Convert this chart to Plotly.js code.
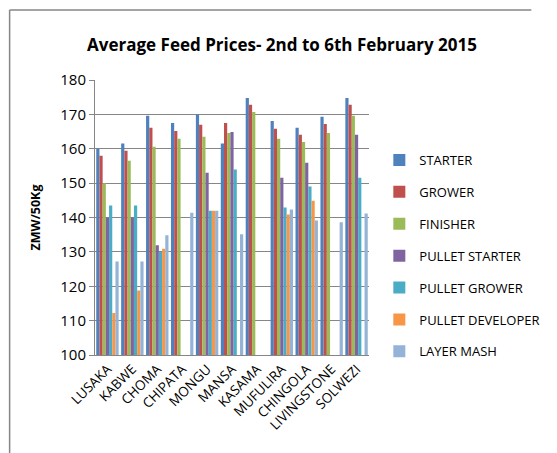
<!DOCTYPE html>
<html>
<head>
<meta charset="utf-8">
<script src="https://cdn.plot.ly/plotly-3.0.1.min.js"></script>
<style>html,body{margin:0;padding:0;background:#fff;} #chart{width:557px;height:453px;}</style>
</head>
<body>
<div id="chart"></div>
<script>
const towns = ["LUSAKA","KABWE","CHOMA","CHIPATA","MONGU","MANSA","KASAMA","MUFULIRA","CHINGOLA","LIVINGSTONE","SOLWEZI"];
const starter        = [160, 161.5, 169.6, 167.5, 170, 161.5, 174.8, 168.1, 166.1, 169.3, 174.8];
const grower         = [158, 159.4, 166.1, 165.2, 167, 167.5, 172.8, 165.8, 164.1, 167.2, 172.8];
const finisher       = [150, 156.5, 160.6, 162.9, 163.5, 164.6, 170.7, 162.9, 162, 164.6, 169.6];
const pulletStarter  = [140, 140, 131.9, 0, 153, 164.9, 0, 151.6, 155.9, 0, 164.1];
const pulletGrower   = [143.5, 143.5, 130, 0, 142, 154, 0, 142.9, 149, 0, 151.6];
const pulletDeveloper= [112.2, 118.8, 130.9, 0, 142, 0, 0, 140.9, 144.9, 0, 0];
const layerMash      = [127.2, 127.2, 134.8, 141.4, 142, 135.1, 0, 142.3, 139.1, 138.6, 141.2];
const seriesNames = ["STARTER","GROWER","FINISHER","PULLET STARTER","PULLET GROWER","PULLET DEVELOPER","LAYER MASH"];
const seriesColors = ["#4F81BD","#C0504D","#9BBB59","#8064A2","#4BACC6","#F79646","#95B3D7"];
const seriesValues = [starter, grower, finisher, pulletStarter, pulletGrower, pulletDeveloper, layerMash];
const yTicks = [100,110,120,130,140,150,160,170,180];

const traces = seriesValues.map((vals, i) => ({
  type: "bar",
  name: seriesNames[i],
  x: towns,
  y: vals,
  legendgroup: "g" + i,
  marker: {color: seriesColors[i], line: {width: 0}},
  hoverinfo: "x+y+name"
}));

const gray = "#868686";
const L = 95, R = 387, T = 80, B = 355;
const pw = R - L, ph = B - T;
const px = v => (v - L) / pw;
const py = v => (B - v) / ph;

const layout = {
  width: 557, height: 453,
  margin: {l: L, r: 557 - R, t: T, b: 453 - B, pad: 0},
  paper_bgcolor: "#fff", plot_bgcolor: "#fff",
  font: {family: "Open Sans, Liberation Sans, sans-serif", color: "#000"},
  title: {
    text: "<b>Average Feed Prices- 2nd to 6th February 2015</b>",
    font: {family: "Open Sans, sans-serif", size: 17, color: "#000"},
    x: 282 / 557, xanchor: "center", xref: "container",
    y: 1 - 45 / 453, yanchor: "middle", yref: "container"
  },
  barmode: "group",
  bargap: 0.1,
  bargroupgap: 0,
  showlegend: true,
  legend: {
    x: px(398), xanchor: "left", y: py(145), yanchor: "top",
    font: {size: 13, color: "#000"},
    tracegroupgap: 12,
    itemwidth: 30,
    bgcolor: "rgba(0,0,0,0)"
  },
  xaxis: {
    type: "category",
    tickangle: -45,
    tickfont: {size: 13.5, color: "#000"},
    showline: true, linecolor: gray, linewidth: 1,
    ticks: "", showgrid: false,
    fixedrange: true
  },
  yaxis: {
    range: [100, 180],
    tickvals: yTicks,
    ticktext: yTicks.map(String),
    tickfont: {size: 15, color: "#000"},
    showline: true, linecolor: gray, linewidth: 1,
    ticks: "outside", ticklen: 5, tickcolor: gray,
    showgrid: true, gridcolor: gray, gridwidth: 1,
    zeroline: false,
    title: {text: "<b>ZMW/50Kg</b>", font: {size: 12.5, color: "#000"}, standoff: 16},
    fixedrange: true
  },
  shapes: [
    {type: "line", xref: "paper", yref: "paper", x0: px(4), x1: px(560), y0: py(10), y1: py(10), line: {color: gray, width: 1.5}},
    {type: "line", xref: "paper", yref: "paper", x0: px(4), x1: px(4), y0: py(10), y1: py(460), line: {color: gray, width: 1.5}}
  ]
};

Plotly.newPlot("chart", traces, layout, {displayModeBar: false, staticPlot: true});
</script>
</body>
</html>
